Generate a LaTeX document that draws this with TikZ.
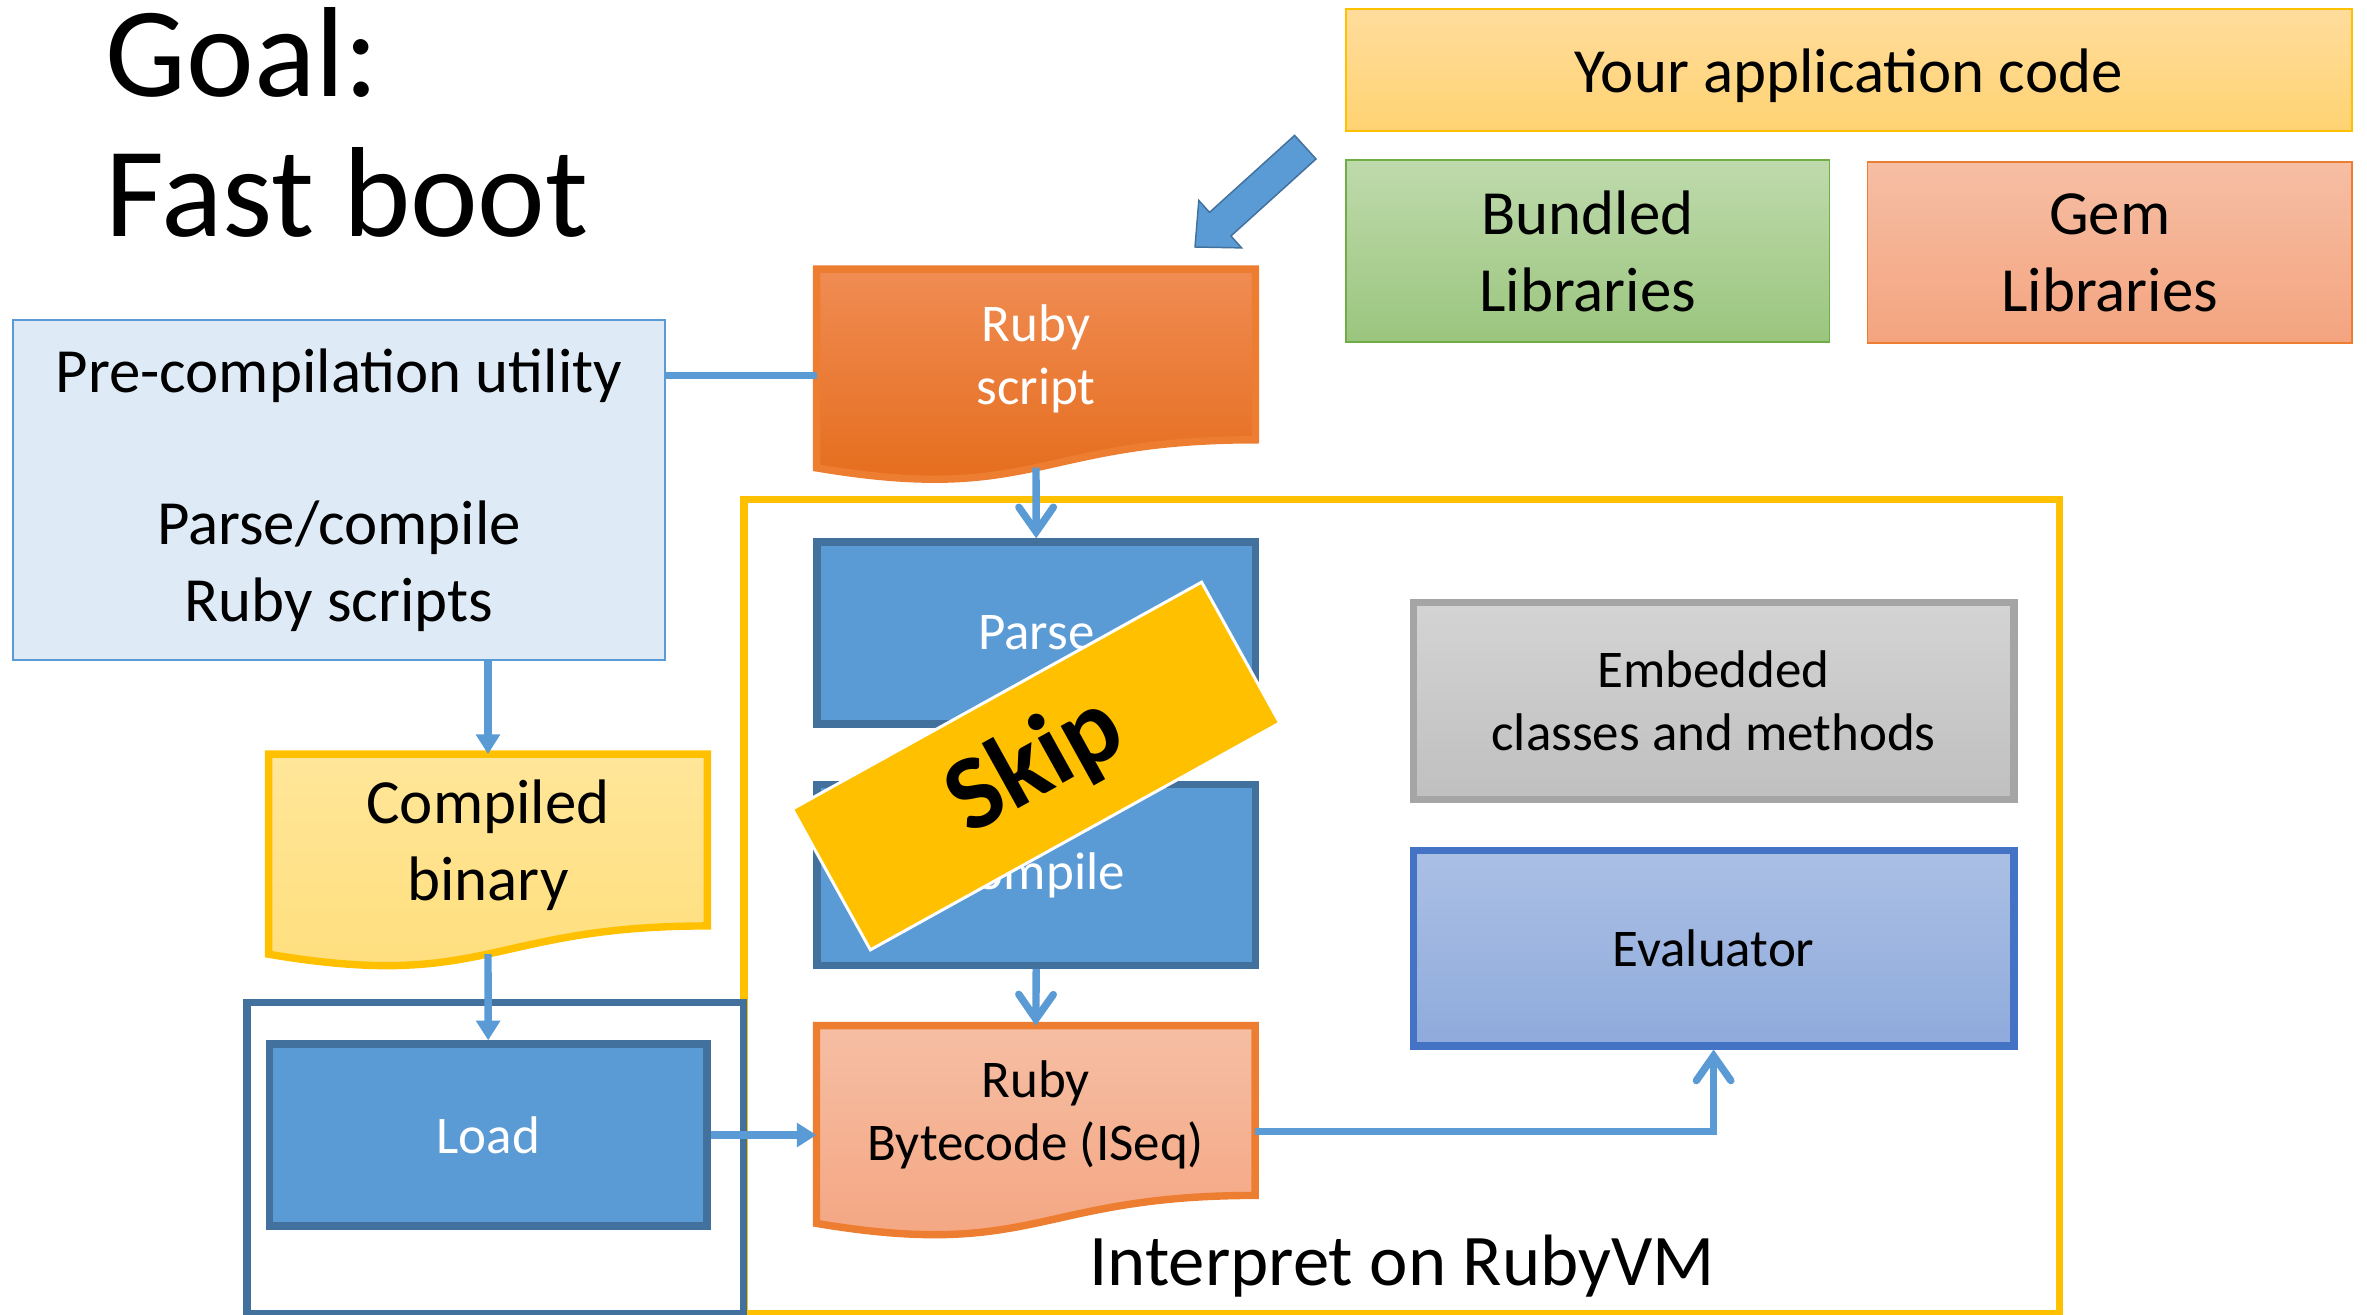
\documentclass[tikz,border=0pt]{standalone}
\usepackage{fontspec}
\setmainfont{Carlito}
\usetikzlibrary{arrows.meta,calc,backgrounds}

\definecolor{boxblue}{HTML}{5B9BD5}
\definecolor{edgeblue}{HTML}{41719C}
\definecolor{vmyellow}{HTML}{FFC000}
\definecolor{rorange}{HTML}{ED7D31}
\definecolor{evalblue}{HTML}{4472C4}
\definecolor{libgreen}{HTML}{70AD47}
\definecolor{greyedge}{HTML}{A5A5A5}
\definecolor{apptop}{HTML}{FFDC9C}
\definecolor{appbot}{HTML}{FFD372}
\definecolor{scripttop}{HTML}{F08C53}
\definecolor{scriptbot}{HTML}{E46A18}
\definecolor{peachtop}{HTML}{F6BEA4}
\definecolor{peachbot}{HTML}{F4A47F}

\newcommand{\midfont}{\fontsize{21.5}{25.5}\selectfont}
\newcommand{\bigfont}{\fontsize{25.5}{31}\selectfont}

% wavy document outline under a node (#1 = node, #2 = look)
\newcommand{\docwave}[2]{%
  \begin{scope}[on background layer]
    \path[#2] (#1.north west) -- (#1.north east) -- (#1.south east)
      .. controls (#1.south) and ($(#1.north)!1.3809!(#1.south)$)
      .. ($(#1.north west)!1.1646!(#1.south west)$) -- cycle;
  \end{scope}
  \coordinate (#1-wave) at ($(#1.north)!1.1634!(#1.south)$);
  \coordinate (#1-w) at ($(#1.north west)!0.6234!(#1.south west)$);
  \coordinate (#1-e) at ($(#1.north east)!0.6234!(#1.south east)$);}

\begin{document}
\begin{tikzpicture}[x=0.4056pt, y=-0.4056pt,
    proc/.style={draw=edgeblue, line width=3pt, fill=boxblue, text=white,
      font=\midfont, inner sep=0pt, minimum width=177.9pt, minimum height=73.8pt},
    doc/.style={inner sep=0pt, align=center, text depth=0pt, minimum width=177.6pt},
    lib/.style={line width=0.7pt, inner sep=0pt, align=center, font=\bigfont},
    vmbox/.style={line width=3pt, inner sep=0pt, align=center, font=\midfont,
      minimum width=243.6pt},
    flow/.style={boxblue, line width=3pt},
    tri/.style={flow, -{Triangle[length=8pt,width=9.5pt]}},
    vee/.style={flow, -{Straight Barb[length=10pt,width=14pt,line cap=round]}}]
  \useasboundingbox (0,0) rectangle (2367,1315);

  % TITLE
  \node[anchor=base west, align=left, font=\fontsize{52}{57}\selectfont]
    (title) at (97,237) {Goal:\\Fast boot};

  % LIBRARIES
  \node[lib, draw=vmyellow, top color=apptop, bottom color=appbot, text depth=0pt,
    minimum width=408pt, minimum height=49.4pt] (app) at (1848.8,70.2) {Your application code};
  \node[lib, draw=libgreen, top color=libgreen!45!white, bottom color=libgreen!70!white,
    minimum width=196.2pt, minimum height=73.8pt] (bundled) at (1587.7,251.3) {Bundled\\Libraries};
  \node[lib, draw=rorange, top color=peachtop, bottom color=peachbot,
    minimum width=196.5pt, minimum height=73.4pt] (gem) at (2109.6,252.8) {Gem\\Libraries};
  \fill[boxblue, draw=edgeblue, line width=0.6pt] (1195,247) -- (1241.6,247.9) -- (1230.9,236)
    -- (1316,159) -- (1294.6,135.4) -- (1209.5,212.4) -- (1198.8,200.5) -- cycle;

  % PRE-COMPILATION
  \node[lib, draw=boxblue, fill=boxblue!20!white, minimum width=264.7pt, minimum height=137.9pt]
    (precomp) at (339,490) {Pre-compilation utility\\[31pt]Parse/compile\\Ruby scripts};

  % FRAMES
  \draw[vmyellow, line width=3pt] (743.8,499.7) rectangle (2059.7,1314);
  \draw[edgeblue, line width=3pt] (247,1002.5) rectangle (743.5,1314);
  \node[anchor=base, font=\fontsize{29.5}{34}\selectfont] (vmlabel) at (1402,1285) {Interpret on RubyVM};

  % DOCUMENTS
  \node[doc, text=white, font=\midfont, minimum height=68.8pt] (script) at (1036,354.5) {Ruby\\script};
  \docwave{script}{draw=rorange, line width=3pt, top color=scripttop, bottom color=scriptbot}
  \node[doc, font=\bigfont, minimum height=69.3pt] (compiled) at (488,840) {Compiled\\binary};
  \docwave{compiled}{draw=vmyellow, line width=3pt, top color=vmyellow!40!white, bottom color=vmyellow!52!white}
  \node[doc, font=\midfont, minimum width=177.5pt, minimum height=68.5pt] (bytecode) at (1035.8,1110.5) {Ruby\\Bytecode (ISeq)};
  \docwave{bytecode}{draw=rorange, line width=3pt, top color=peachtop, bottom color=peachbot}

  % STEPS
  \node[proc] (parse) at (1036.2,633) {Parse};
  \node[proc, minimum height=73.4pt] (compile) at (1036.2,875) {Compile};
  \node[proc, minimum width=177.5pt] (load) at (488.2,1135) {Load};

  % VM PARTS
  \node[vmbox, draw=greyedge, top color=black!17, bottom color=black!25, minimum height=79.9pt]
    (embedded) at (1713.6,700.9) {Embedded\\classes and methods};
  \node[vmbox, draw=evalblue, top color=evalblue!45!white, bottom color=evalblue!60!white,
    minimum height=79.1pt] (eval) at (1713.6,948.3) {Evaluator};

  % CONNECTORS
  \draw[flow] (precomp.east |- script-w) -- (script-w);
  \draw[tri] (precomp.south -| compiled.north) -- (compiled.north);
  \draw[tri] (compiled-wave) -- (load.north);
  \draw[tri] (load.east) -- (load.east -| bytecode.west);
  \draw[vee] (script-wave) -- (parse.north);
  \draw[vee] (compile.south) -- (bytecode.north);
  \draw[vee] (bytecode-e) -- (bytecode-e -| eval.south) -- (eval.south);

  % SKIP
  \node[fill=vmyellow, draw=white, line width=1.2pt, rotate=29, inner sep=0pt,
    minimum width=189.8pt, minimum height=65.3pt, font=\fontsize{43}{50}\selectfont\bfseries]
    (skip) at (1036,766) {Skip};
\end{tikzpicture}
\end{document}
